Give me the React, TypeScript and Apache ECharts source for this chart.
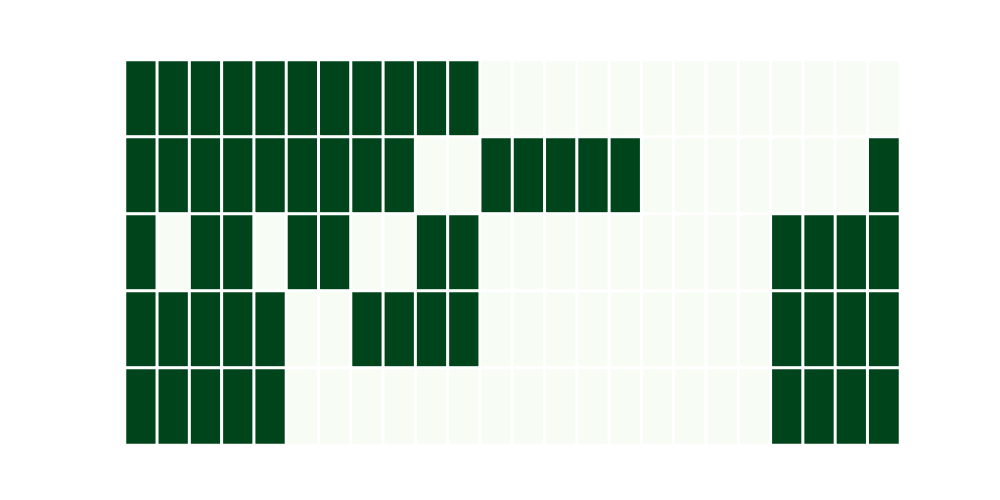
import React, { useEffect, useRef } from "react";
import * as echarts from "echarts";

const columns: string[] = Array.from({ length: 24 }, (_, i) => String(i));
const rows: string[] = ["0", "1", "2", "3", "4"];

const row0: number[] = [1,1,1,1,1,1,1,1,1,1,1,0,0,0,0,0,0,0,0,0,0,0,0,0];
const row1: number[] = [1,1,1,1,1,1,1,1,1,0,0,1,1,1,1,1,0,0,0,0,0,0,0,1];
const row2: number[] = [1,0,1,1,0,1,1,0,0,1,1,0,0,0,0,0,0,0,0,0,1,1,1,1];
const row3: number[] = [1,1,1,1,1,0,0,1,1,1,1,0,0,0,0,0,0,0,0,0,1,1,1,1];
const row4: number[] = [1,1,1,1,1,0,0,0,0,0,0,0,0,0,0,0,0,0,0,0,1,1,1,1];

const matrix: number[][] = [row0, row1, row2, row3, row4];

export default function App() {
  const ref = useRef<HTMLDivElement>(null);
  useEffect(() => {
    if (!ref.current) return;
    const chart = echarts.init(ref.current, null, { renderer: "svg" });
    const data: [number, number, number][] = [];
    matrix.forEach((r, y) => r.forEach((v, x) => data.push([x, y, v])));
    chart.setOption({
      animation: false,
      backgroundColor: "#ffffff",
      grid: { left: 125, right: 100, top: 60, bottom: 55 },
      xAxis: {
        type: "category",
        data: columns,
        show: false,
      },
      yAxis: {
        type: "category",
        data: rows,
        inverse: true,
        show: false,
      },
      visualMap: {
        show: false,
        min: 0,
        max: 1,
        inRange: { color: ["#f7fcf5", "#00441b"] },
      },
      series: [
        {
          type: "heatmap",
          data,
          itemStyle: { borderColor: "#ffffff", borderWidth: 3 },
          emphasis: { disabled: true },
        },
      ],
    });
    return () => chart.dispose();
  }, []);
  return <div ref={ref} style={{ width: 1000, height: 500, margin: -8 }} />;
}
